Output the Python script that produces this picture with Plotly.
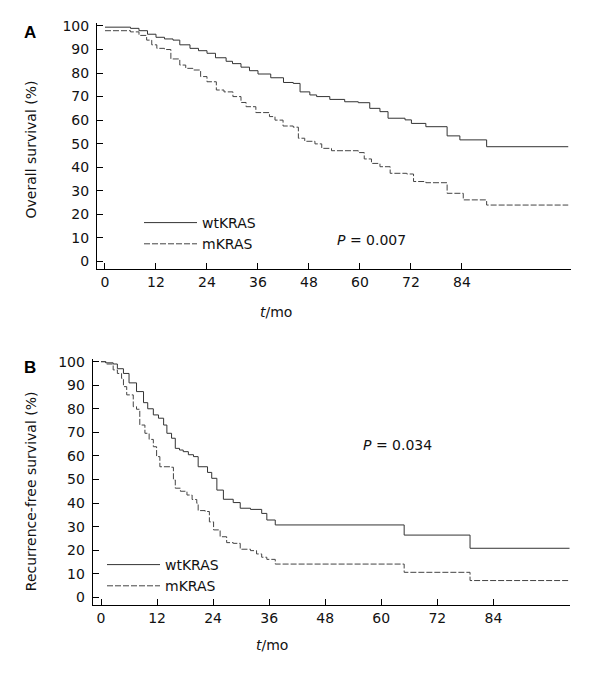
import plotly.graph_objects as go

# ---------------- data ----------------
os_wt_t = [0, 6, 8, 10, 12, 14, 16, 17.6, 20, 22, 24, 26, 28.5, 30, 32, 34, 36, 39, 42, 44.3, 45.9,
           48.2, 49.8, 52.9, 56.4, 59.6, 62.3, 64.7, 66.6, 70.6, 72.1, 75.5, 80.5, 83.5, 89.8, 109]
os_wt_s = [99.5, 99, 98, 96.5, 95.2, 94.5, 94, 92, 90.5, 89.5, 88.4, 86.5, 85, 84, 82.5, 81, 79.6, 78, 76, 75.6, 72,
           70.7, 70, 68.8, 67.8, 67.4, 65, 63.6, 60.8, 60.1, 58.6, 57.2, 53.3, 51.6, 48.7, 48.7]

os_mt_t = [0, 6, 8, 9.8, 11, 12.2, 14, 15.5, 17.6, 19, 20.7, 22.5, 24, 26.2, 28, 30.1, 32, 33.2, 35.5, 38.7,
           40, 41.9, 44.3, 45.5, 47, 49.4, 51, 53.3, 59.6, 61, 62.7, 64.7, 67.1, 71, 72.6, 75.5, 80.5, 84.3, 89.8, 109]
os_mt_s = [98, 97.5, 96, 94, 92, 90.5, 90, 86, 83.4, 82, 81.3, 78.5, 76.3, 72.8, 72, 70, 67.5, 65.7, 63.2, 61.5,
           60, 57.5, 57, 52.3, 51, 49.9, 48, 47, 46.2, 43.5, 41.6, 40.2, 37.4, 37.1, 33.9, 33.4, 28.9, 26.1, 23.9, 23.9]

rfs_wt_t = [0, 1, 2.6, 3.5, 4.8, 6, 7.6, 9.1, 10, 11.2, 12.3, 13.4, 14.1, 15.1, 15.9, 16.8, 17.6, 18.7, 19.8,
            20.8, 22.8, 23.7, 24.8, 26.2, 28.3, 29.8, 32, 34.4, 35.5, 37.3, 64.9, 79, 100.3]
rfs_wt_s = [100, 99.5, 99, 97, 95, 91, 87.3, 82.6, 80, 77.4, 76, 73.1, 69.6, 67.5, 63.2, 62.5, 61.8, 60.5, 59.7,
            55.4, 53, 50.5, 45.5, 41.6, 40.2, 37.8, 37.3, 35.6, 32.8, 30.7, 26.4, 20.8, 20.8]

rfs_mt_t = [0, 1, 2.6, 3.5, 4.4, 4.8, 5.5, 6.9, 7.6, 8.3, 9.4, 10.3, 11.2, 11.9, 12.6, 14.8, 15.5, 15.9, 17,
            18.4, 19.5, 20.5, 20.8, 22.3, 23.2, 24.1, 25.5, 26.9, 28.3, 29.8, 32, 33.3, 34.4, 35.5, 37.3, 64.9, 79, 100.3]
rfs_mt_s = [100, 99, 96.5, 95, 92.9, 89.4, 85.9, 80.9, 79.8, 73.1, 69.6, 67, 63.9, 59.7, 55.4, 55.2, 49.8, 46.3, 45,
            43.4, 41.5, 39.9, 36.8, 36.4, 32, 28.6, 25.7, 23.2, 22.9, 20.4, 19.8, 18.4, 17, 16.1, 14.1, 10.6, 7.1, 7.1]

x_ticks = [0, 12, 24, 36, 48, 60, 72, 84]
y_ticks = [0, 10, 20, 30, 40, 50, 60, 70, 80, 90, 100]
series_names = ["wtKRAS", "mKRAS"]
p_values = ["0.007", "0.034"]
y_titles = ["Overall survival (%)", "Recurrence-free survival (%)"]
panel_labels = ["A", "B"]

# ---------------- layout helpers ----------------
W, H = 600, 677
ML, MR, MT, MB = 90, 29, 20, 72
PW, PH = W - ML - MR, H - MT - MB


def px(xp):
    return (xp - ML) / PW


def py(yp):
    return (H - MB - yp) / PH


FONT = "DejaVu Sans"
FS = 14
TXT = "#111111"
WT_COLOR = "#333333"
MT_COLOR = "#444444"
MT_DASH = "6px,2px"

fig = go.Figure()

fig.add_trace(go.Scatter(x=os_wt_t, y=os_wt_s, mode="lines", line_shape="hv", name=series_names[0],
                         line=dict(color=WT_COLOR, width=1), xaxis="x", yaxis="y", legend="legend"))
fig.add_trace(go.Scatter(x=os_mt_t, y=os_mt_s, mode="lines", line_shape="hv", name=series_names[1],
                         line=dict(color=MT_COLOR, width=1, dash=MT_DASH), xaxis="x", yaxis="y", legend="legend"))
fig.add_trace(go.Scatter(x=rfs_wt_t, y=rfs_wt_s, mode="lines", line_shape="hv", name=series_names[0],
                         line=dict(color=WT_COLOR, width=1), xaxis="x2", yaxis="y2", legend="legend2"))
fig.add_trace(go.Scatter(x=rfs_mt_t, y=rfs_mt_s, mode="lines", line_shape="hv", name=series_names[1],
                         line=dict(color=MT_COLOR, width=1, dash=MT_DASH), xaxis="x2", yaxis="y2", legend="legend2"))

axis_common = dict(showline=True, linecolor="black", linewidth=1, ticks="inside", ticklen=6,
                   tickcolor="black", tickwidth=1, showgrid=False, zeroline=False, automargin=False,
                   tickfont=dict(family=FONT, size=FS, color=TXT))

fig.update_layout(
    width=W, height=H,
    margin=dict(l=ML, r=MR, t=MT, b=MB, autoexpand=False),
    paper_bgcolor="white", plot_bgcolor="white",
    font=dict(family=FONT, size=FS, color=TXT),
    xaxis=dict(domain=[px(97), px(571)], range=[-1.88, 109.65], anchor="y",
               tickvals=x_ticks, **axis_common),
    yaxis=dict(domain=[py(269.3), py(22.7)], range=[-3.4, 101.4], anchor="x",
               tickvals=y_ticks, ticklabelstandoff=4, **axis_common),
    xaxis2=dict(domain=[px(92.7), px(570)], range=[-1.78, 100.4], anchor="y2",
                tickvals=x_ticks, **axis_common),
    yaxis2=dict(domain=[py(605), py(359.3)], range=[-3.27, 101.0], anchor="x2",
                tickvals=y_ticks, ticklabelstandoff=4, **axis_common),
    legend=dict(x=px(139), y=py(207), xanchor="left", yanchor="top", bgcolor="rgba(0,0,0,0)",
                font=dict(family=FONT, size=FS, color=TXT), tracegroupgap=0, itemwidth=53),
    legend2=dict(x=px(102), y=py(549), xanchor="left", yanchor="top", bgcolor="rgba(0,0,0,0)",
                 font=dict(family=FONT, size=FS, color=TXT), tracegroupgap=0, itemwidth=53),
)

ann = []
# panel labels
for lab, yp in zip(panel_labels, [32.5, 367.5]):
    ann.append(dict(text=f"<b>{lab}</b>", x=px(30), y=py(yp), xref="paper", yref="paper",
                    xanchor="center", yanchor="middle", showarrow=False,
                    font=dict(family="Liberation Sans", size=17, color="black")))
# y titles
for t, yp in zip(y_titles, [150, 491.7]):
    ann.append(dict(text=t, x=px(30.5), y=py(yp), xref="paper", yref="paper", textangle=-90,
                    xanchor="center", yanchor="middle", showarrow=False,
                    font=dict(family=FONT, size=FS, color=TXT)))
# x titles
for xp, yp in [(276, 312), (272, 645)]:
    ann.append(dict(text="<i>t</i>/mo", x=px(xp), y=py(yp), xref="paper", yref="paper",
                    xanchor="center", yanchor="middle", showarrow=False,
                    font=dict(family=FONT, size=FS, color=TXT)))
# p-values
for pv, xp, yp in zip(p_values, [371, 397], [240, 445]):
    ann.append(dict(text=f"<i>P</i> = {pv}", x=px(xp), y=py(yp), xref="paper", yref="paper",
                    xanchor="center", yanchor="middle", showarrow=False,
                    font=dict(family=FONT, size=FS, color=TXT)))
fig.update_layout(annotations=ann)

fig.write_html("out.html", config={"displayModeBar": False},
               post_script="document.body.style.margin='0';")
